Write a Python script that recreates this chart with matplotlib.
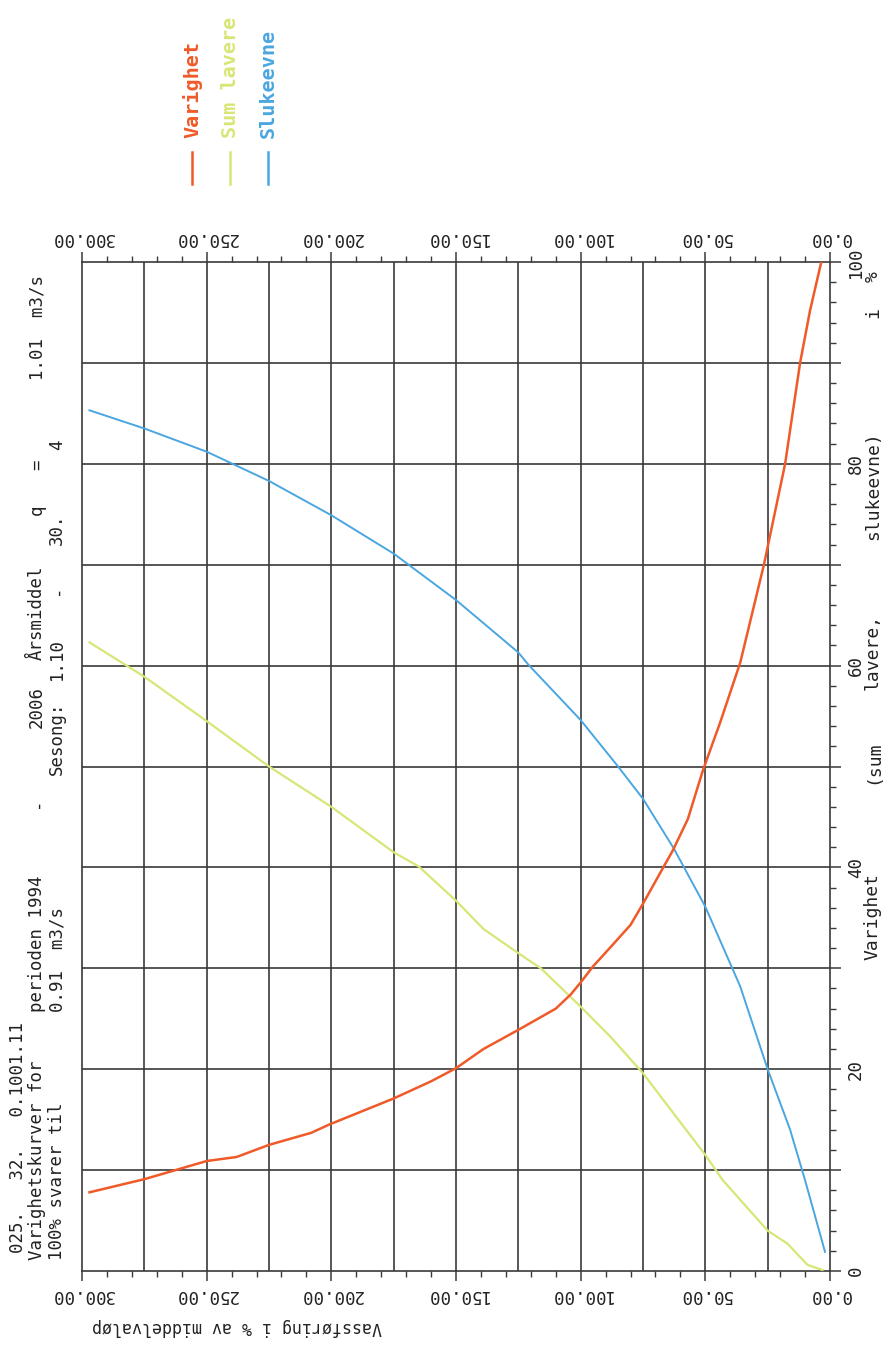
import numpy as np
import matplotlib
matplotlib.use('Agg')
import matplotlib.pyplot as plt
from matplotlib.lines import Line2D

W, H = 885, 1346

# Varighet (duration in %, flow in % of mean)
var_dur = [7.8, 9.1, 10.9, 11.3, 12.5, 13.7, 14.5, 16.1, 17.1, 18.8, 20.1, 22.0, 23.9,
           26.0, 27.4, 28.6, 30.2, 32.1, 34.3, 36.4, 39.5, 41.7, 44.8, 49.6, 54.4, 60.3,
           70.0, 80.0, 90.0, 95.2, 100.0]
var_val = [297, 275, 250, 238, 225, 208, 201, 185, 175, 160, 150, 139, 125,
           110, 104, 100, 95, 88, 80, 75, 68, 63, 57, 51, 44, 36,
           26.5, 18, 12, 8, 3.5]

# Sum lavere
sum_dur = [0.1, 0.6, 2.7, 4.0, 9.0, 11.5, 15.7, 19.6, 23.2, 26.2, 30.0, 31.5, 33.9,
           36.7, 40.1, 41.5, 46.0, 50.0, 54.5, 58.9, 62.3]
sum_val = [3, 9, 17, 25, 43, 50, 63, 75, 88, 100, 116, 125, 139,
           150, 165, 175, 200, 225, 250, 275, 297]

# Slukeevne
sluk_dur = [1.9, 9.0, 14.0, 20.0, 28.2, 36.1, 41.9, 46.8, 50.0, 54.6, 60.1, 61.3,
            66.5, 71.1, 74.9, 78.3, 81.2, 83.5, 85.3]
sluk_val = [2, 10, 16, 25, 36, 50, 62.7, 75, 85, 100, 121, 125,
            150, 175, 200, 225, 250, 275, 297]

c_var = '#ef5a28'
c_sum = '#d9e676'
c_sluk = '#4aa6e0'
c_grid = '#3a3a3a'
mono = 'DejaVu Sans Mono'

fig = plt.figure(figsize=(W / 100, H / 100), dpi=100)
ax = fig.add_axes([82 / W, 1 - 1271 / H, (830 - 82) / W, (1271 - 262) / H])

for v in range(25, 300, 25):
    ax.axvline(v, color=c_grid, lw=1.2, zorder=1)
for d in range(10, 100, 10):
    ax.axhline(d, color=c_grid, lw=1.2, zorder=1)

ax.plot(sum_val, sum_dur, color=c_sum, lw=1.6, zorder=3)
ax.plot(sluk_val, sluk_dur, color=c_sluk, lw=1.4, zorder=3)
ax.plot(var_val, var_dur, color=c_var, lw=1.8, zorder=4)

ax.set_xlim(300, 0)
ax.set_ylim(0, 100)
for s in ax.spines.values():
    s.set_color(c_grid)
    s.set_linewidth(1.2)

ax.set_xticks(np.arange(0, 301, 50))
ax.set_xticklabels(['%.2f' % v for v in np.arange(0, 301, 50)])
ax.set_xticks(np.arange(0, 301, 10), minor=True)
ax.tick_params(axis='x', which='major', top=True, labeltop=True, bottom=True,
               labelbottom=True, direction='out', length=7, width=1.1,
               color=c_grid, labelrotation=180, labelsize=12.5, pad=4)
ax.tick_params(axis='x', which='minor', top=True, bottom=True, direction='out',
               length=4.5, width=1.0, color=c_grid)

ax.set_yticks(np.arange(0, 101, 10))
ax.set_yticklabels([str(v) if v % 20 == 0 else '' for v in range(0, 101, 10)])
ax.set_yticks(np.arange(0, 101, 2), minor=True)
ax.tick_params(axis='y', which='major', left=False, labelleft=False, right=True,
               labelright=True, direction='out', length=8, width=1.1,
               color=c_grid, labelrotation=90, labelsize=12.5, pad=4)
ax.tick_params(axis='y', which='minor', left=False, right=True, direction='out',
               length=4, width=1.0, color=c_grid)
for lab in ax.get_xticklabels() + ax.get_yticklabels():
    lab.set_family(mono)
    lab.set_color('#222222')
for lab in ax.get_yticklabels():
    lab.set_va('center')

# axis titles
fig.text(237 / W, 1 - 1327 / H, 'Vassføring i % av middelvaløp', rotation=180,
         ha='center', va='center', family=mono, fontsize=12, color='#222222')
ylab = [(960, 'Varighet'), (784, '(sum'), (690, 'lavere,'), (540, 'slukeevne)'),
        (318, 'i'), (282, '%')]
for y, t in ylab:
    fig.text(873 / W, 1 - y / H, t, rotation=90, rotation_mode='anchor',
             ha='left', va='center', family=mono, fontsize=13, color='#222222')

# header text (rotated)
header = [
    (18, 1253, '025.   32.   0.1001.11'),
    (37, 1260, 'Varighetskurver for'),
    (37, 1012, 'perioden 1994'),
    (37, 808, '-'),
    (37, 728, '2006'),
    (37, 660, 'Årsmiddel'),
    (37, 515, 'q'),
    (37, 470, '='),
    (37, 380, '1.01  m3/s'),
    (57, 1260, '100% svarer til'),
    (57, 1012, '0.91  m3/s'),
    (57, 775, 'Sesong:'),
    (57, 680, '1.10'),
    (57, 595, '-'),
    (57, 545, '30.'),
    (57, 450, '4'),
]
for x, y, t in header:
    fig.text(x / W, 1 - y / H, t, rotation=90, rotation_mode='anchor',
             ha='left', va='center', family=mono, fontsize=12.5, color='#222222')

# legend (rotated)
legend = [(192, 'Varighet', c_var), (230, 'Sum lavere', c_sum), (268, 'Slukeevne', c_sluk)]
for x, t, c in legend:
    fig.add_artist(Line2D([x / W, x / W], [1 - 184 / H, 1 - 152 / H], color=c, lw=1.8))
    fig.text(x / W, 1 - 138 / H, t, rotation=90, rotation_mode='anchor',
             ha='left', va='center', family=mono, fontsize=14.5, fontweight='bold', color=c)

fig.savefig('out.png', dpi=100, facecolor='white')
